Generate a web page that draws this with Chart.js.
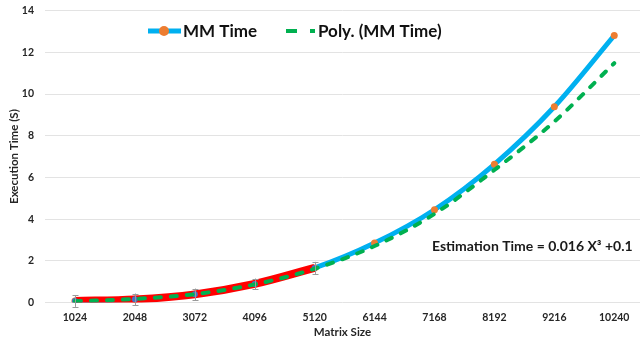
<!DOCTYPE html>
<html>
<head>
<meta charset="utf-8">
<script src="https://cdn.jsdelivr.net/npm/chart.js@4/dist/chart.umd.min.js"></script>
<style>
  html, body { margin: 0; padding: 0; background: #ffffff; }
  canvas { display: block; }
</style>
</head>
<body>
<canvas id="chart" width="644" height="346"></canvas>
<script>
// Matrix sizes along the x axis
const matrixSizes = ['1024', '2048', '3072', '4096', '5120', '6144', '7168', '8192', '9216', '10240'];
// Measured matrix-multiplication time (seconds)
const mmTime = [0.07, 0.15, 0.39, 0.89, 1.66, 2.85, 4.45, 6.63, 9.39, 12.81];
// Measured range with error bars (first five sizes)
const measuredTime = [0.07, 0.15, 0.39, 0.89, 1.66];
const measuredError = [0.28, 0.28, 0.28, 0.26, 0.29];
// Polynomial trend line of MM Time
const polyTrend = [0.06, 0.17, 0.40, 0.87, 1.62, 2.71, 4.25, 6.36, 8.68, 11.48];
// Y axis tick values
const yTicks = [0, 2, 4, 6, 8, 10, 12, 14];
const equationText = 'Estimation Time = 0.016 X³ +0.1';

const FONT = 'Lato, "Liberation Sans", sans-serif';
const toPoints = arr => arr.map((v, i) => ({ x: i + 1, y: v }));

// Error bars on the measured range
const errorBarPlugin = {
  id: 'errorBars',
  afterDatasetsDraw(chart) {
    const { ctx, scales: { x, y } } = chart;
    ctx.save();
    ctx.strokeStyle = '#9a9a9a';
    ctx.lineWidth = 1;
    measuredTime.forEach((v, i) => {
      const px = Math.round(x.getPixelForValue(i + 1)) + 0.5;
      const top = y.getPixelForValue(v + measuredError[i]);
      const bot = y.getPixelForValue(v - measuredError[i]);
      ctx.beginPath();
      ctx.moveTo(px, top); ctx.lineTo(px, bot);
      ctx.moveTo(px - 3, Math.round(top) + 0.5); ctx.lineTo(px + 3, Math.round(top) + 0.5);
      ctx.moveTo(px - 3, Math.round(bot) + 0.5); ctx.lineTo(px + 3, Math.round(bot) + 0.5);
      ctx.stroke();
    });
    ctx.restore();
  }
};

// Legend inside the plot plus the fitted equation label
const overlayPlugin = {
  id: 'overlay',
  afterDraw(chart) {
    const { ctx } = chart;
    const ds = chart.data.datasets;
    ctx.save();
    const ly = 31;
    // MM Time entry
    ctx.strokeStyle = ds[2].borderColor;
    ctx.lineWidth = 5;
    ctx.lineCap = 'butt';
    ctx.beginPath(); ctx.moveTo(148, ly); ctx.lineTo(181, ly); ctx.stroke();
    ctx.fillStyle = ds[2].pointBackgroundColor;
    ctx.beginPath(); ctx.arc(164, ly, 5, 0, Math.PI * 2); ctx.fill();
    ctx.fillStyle = '#111';
    ctx.font = 'bold 17px ' + FONT;
    ctx.textBaseline = 'middle';
    ctx.textAlign = 'left';
    ctx.fillText(ds[2].label, 183, ly + 1);
    // Poly entry
    ctx.strokeStyle = ds[0].borderColor;
    ctx.lineWidth = 4;
    ctx.beginPath(); ctx.moveTo(286, ly); ctx.lineTo(297, ly); ctx.moveTo(310, ly); ctx.lineTo(315, ly); ctx.stroke();
    ctx.fillText(ds[0].label, 318, ly + 1);
    // Equation
    ctx.font = 'bold 14px ' + FONT;
    ctx.fillStyle = '#1a1a1a';
    ctx.fillText(equationText, 432, 246);
    ctx.restore();
  }
};

new Chart(document.getElementById('chart'), {
  type: 'line',
  data: {
    datasets: [
      {
        label: 'Poly. (MM Time)',
        data: toPoints(polyTrend),
        borderColor: '#00B050',
        borderWidth: 4,
        borderDash: [6, 10],
        borderCapStyle: 'round',
        pointRadius: 0,
        cubicInterpolationMode: 'monotone',
        order: 0
      },
      {
        label: 'Measured',
        data: toPoints(measuredTime),
        borderColor: '#FF0000',
        borderWidth: 8,
        pointRadius: 3,
        pointBackgroundColor: '#4472C4',
        pointBorderWidth: 0,
        cubicInterpolationMode: 'monotone',
        order: 1
      },
      {
        label: 'MM Time',
        data: toPoints(mmTime),
        borderColor: '#00B0F0',
        borderWidth: 5,
        pointRadius: 3.5,
        pointBackgroundColor: '#ED7D31',
        pointBorderWidth: 0,
        cubicInterpolationMode: 'monotone',
        order: 2
      }
    ]
  },
  options: {
    responsive: false,
    animation: false,
    layout: { padding: { top: 10.7, left: 0, right: 0, bottom: 0 } },
    plugins: { legend: { display: false }, tooltip: { enabled: false } },
    scales: {
      x: {
        type: 'linear',
        min: 0.5,
        max: 10.43,
        grid: { display: false },
        border: { display: false },
        afterBuildTicks: s => { s.ticks = matrixSizes.map((_, i) => ({ value: i + 1 })); },
        afterFit: s => { s.height = 43.5; s.paddingLeft = 0; s.paddingRight = 0; },
        ticks: {
          autoSkip: false,
          maxRotation: 0,
          padding: 1,
          color: '#262626',
          font: { family: FONT, size: 10.5, weight: 'bold' },
          callback: v => matrixSizes[v - 1]
        },
        title: {
          display: true,
          text: 'Matrix Size',
          color: '#262626',
          font: { family: FONT, size: 11.5, weight: 'bold' },
          padding: { top: 0, bottom: 6.4 }
        }
      },
      y: {
        min: 0,
        max: 14,
        grid: { color: '#e3e3e3', lineWidth: 1, drawTicks: false },
        border: { display: false },
        afterBuildTicks: s => { s.ticks = yTicks.map(v => ({ value: v })); },
        afterFit: s => { s.width = 45; s.paddingTop = 0; s.paddingBottom = 0; },
        ticks: {
          padding: 11,
          color: '#262626',
          font: { family: FONT, size: 10.5, weight: 'bold' }
        },
        title: {
          display: true,
          text: 'Execution Time (S)',
          color: '#262626',
          font: { family: FONT, size: 11.5, weight: 'bold' },
          padding: { top: 7.4, bottom: 0 }
        }
      }
    }
  },
  plugins: [errorBarPlugin, overlayPlugin]
});
</script>
</body>
</html>
